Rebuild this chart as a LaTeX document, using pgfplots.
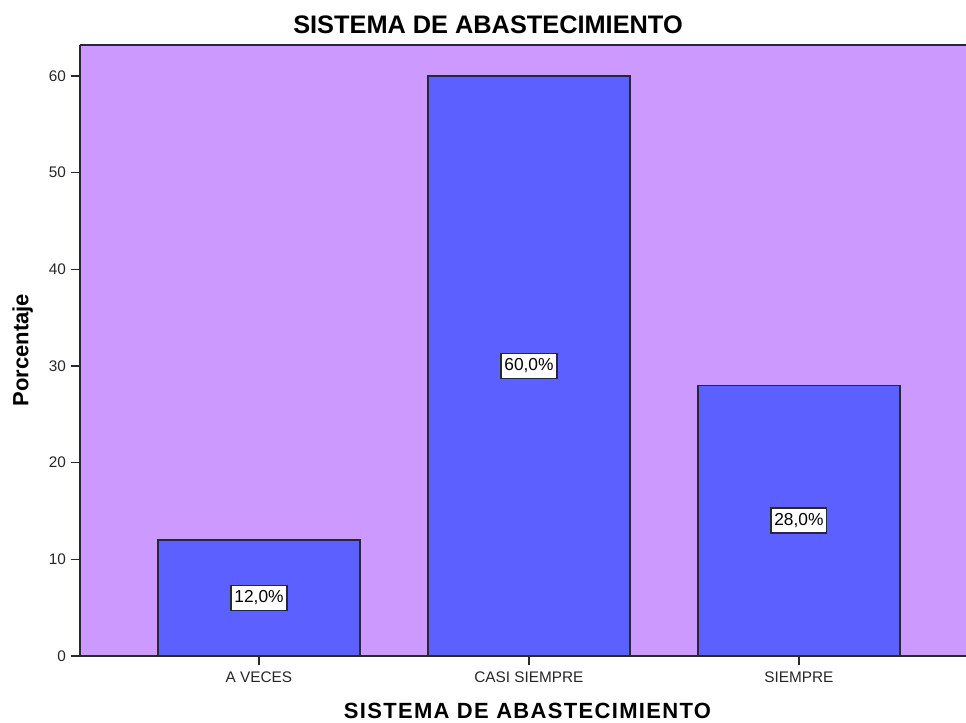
\documentclass[border=0pt]{standalone}
\usepackage{pgfplots}
\pgfplotsset{compat=1.18}
\usepackage{fontspec}
\setmainfont{Liberation Sans}
\newfontfamily\spaced[LetterSpace=6]{Liberation Sans}
\definecolor{bgpurple}{RGB}{204,153,255}
\definecolor{barblue}{RGB}{91,96,255}
\definecolor{edgegray}{RGB}{40,40,50}
\begin{document}
\begin{tikzpicture}
\begin{axis}[
  scale only axis,
  width=664.5pt, height=458.25pt,
  xmin=-0.663, xmax=2.619,
  ymin=0, ymax=63.2,
  axis background/.style={fill=bgpurple},
  axis x line*=bottom, axis y line*=left,
  axis line style={draw=edgegray, line width=1pt, -},
  extra description/.code={\draw[edgegray, line width=1.2pt] (rel axis cs:0,1) -- (rel axis cs:1,1);},
  xtick={0,1,2},
  xticklabels={A VECES, CASI SIEMPRE, SIEMPRE},
  ytick={0,10,20,30,40,50,60},
  tick align=outside,
  major tick length=7pt,
  tick style={draw=edgegray, line width=0.9pt},
  tick label style={font=\fontsize{11.5}{13}\selectfont, text=black!85},
  /pgf/number format/assume math mode=true,
  xticklabel style={yshift=-1.5pt},
  yticklabel style={xshift=0pt},
  title={\bfseries SISTEMA DE ABASTECIMIENTO},
  title style={font=\fontsize{19}{22}\selectfont, at={(rel axis cs:0.4605,1)}, anchor=center, yshift=9pt},
  xlabel={\bfseries\spaced SISTEMA DE ABASTECIMIENTO},
  xlabel style={font=\fontsize{16.5}{19}\selectfont, at={(rel axis cs:0.505,0)}, anchor=center, yshift=-41pt},
  ylabel={\bfseries Porcentaje},
  ylabel style={font=\fontsize{16.5}{19}\selectfont, at={(rel axis cs:0,0.5008)}, anchor=center, yshift=43pt},
  clip=false,
]
\addplot[ybar, bar width=0.748, fill=barblue, draw=edgegray, line width=1pt]
  coordinates {(0,12) (1,60) (2,28)};
\addplot[only marks, mark=none, point meta=explicit symbolic,
  nodes near coords,
  nodes near coords style={fill=white, draw=edgegray, line width=1pt, anchor=center, inner xsep=2.5pt, inner ysep=4pt, font=\fontsize{13}{15}\selectfont, text=black}]
  coordinates {(0,6) [12,0\%] (1,30) [60,0\%] (2,14) [28,0\%]};
\end{axis}
\pgfresetboundingbox
\path (-60pt,-49.5pt) rectangle (664.5pt,492pt);
\end{tikzpicture}
\end{document}
